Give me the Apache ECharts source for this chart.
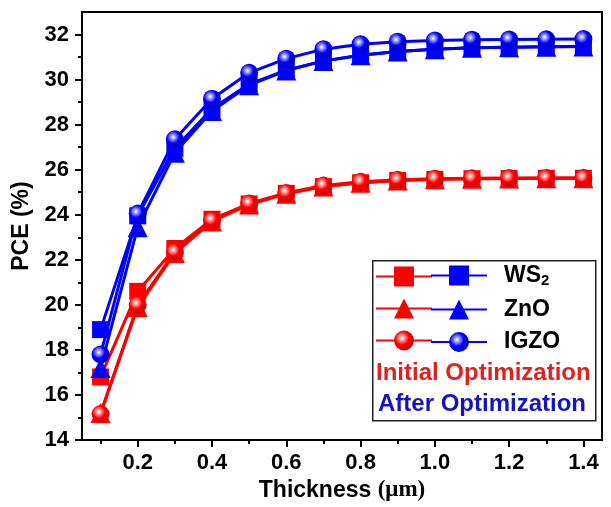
<!DOCTYPE html>
<html>
<head>
<meta charset="utf-8">
<script src="https://cdn.jsdelivr.net/npm/echarts@6/dist/echarts.min.js"></script>
<style>
  html, body { margin: 0; padding: 0; background: #fff; }
  #chart { width: 611px; height: 507px; }
</style>
</head>
<body>
<div id="chart"></div>
<script>
// Absorber thickness (µm)
const thickness = [0.1, 0.2, 0.3, 0.4, 0.5, 0.6, 0.7, 0.8, 0.9, 1.0, 1.1, 1.2, 1.3, 1.4];

// PCE (%) – initial optimization
const initWS2  = [16.8, 20.6, 22.5, 23.8, 24.48, 24.95, 25.25, 25.42, 25.52, 25.57, 25.6, 25.61, 25.62, 25.62];
const initZnO  = [15.2, 19.9, 22.3, 23.7, 24.45, 24.93, 25.25, 25.42, 25.52, 25.57, 25.6, 25.61, 25.62, 25.62];
const initIGZO = [15.15, 20.0, 22.35, 23.75, 24.5, 24.97, 25.3, 25.46, 25.55, 25.6, 25.62, 25.63, 25.63, 25.63];

// PCE (%) – after optimization
const afterWS2  = [18.9, 23.95, 26.95, 28.7, 29.8, 30.42, 30.83, 31.08, 31.25, 31.35, 31.41, 31.44, 31.46, 31.47];
const afterZnO  = [17.2, 23.45, 26.75, 28.6, 29.75, 30.4, 30.82, 31.08, 31.25, 31.35, 31.41, 31.44, 31.46, 31.47];
const afterIGZO = [17.8, 24.05, 27.35, 29.15, 30.3, 30.93, 31.35, 31.57, 31.68, 31.74, 31.77, 31.78, 31.79, 31.8];

// Axis ticks
const xMajorTicks = [0.2, 0.4, 0.6, 0.8, 1.0, 1.2, 1.4];
const xMinorTicks = [0.1, 0.3, 0.5, 0.7, 0.9, 1.1, 1.3];
const yMajorTicks = [14, 16, 18, 20, 22, 24, 26, 28, 30, 32];
const yMinorTicks = [15, 17, 19, 21, 23, 25, 27, 29, 31];

const RED = '#ff0000';
const BLUE = '#0000ff';
const SANS = '"Liberation Sans", Arial, sans-serif';
const SERIF = '"Liberation Serif", "Times New Roman", serif';

const chart = echarts.init(document.getElementById('chart'), null, { renderer: 'canvas' });

function pairs(ys) {
  return thickness.map((x, i) => [x, ys[i]]);
}

// shaded ball fill for the circle markers
function sphere(base, mid, dark) {
  return new echarts.graphic.RadialGradient(0.4, 0.38, 0.62, [
    { offset: 0, color: '#ffffff' },
    { offset: 0.22, color: mid },
    { offset: 0.55, color: base },
    { offset: 1, color: dark }
  ]);
}

function lineSeries(name, ys, color, symbol, size, fill) {
  return {
    name: name,
    type: 'line',
    data: pairs(ys),
    symbol: symbol,
    symbolSize: size,
    showAllSymbol: true,
    lineStyle: { color: color, width: 3 },
    itemStyle: { color: fill || color },
    emphasis: { disabled: true },
    animation: false,
    z: 2
  };
}

const series = [
  lineSeries('i-WS2', initWS2, RED, 'rect', 17),
  lineSeries('i-ZnO', initZnO, RED, 'triangle', 20),
  lineSeries('i-IGZO', initIGZO, RED, 'circle', 18, sphere(RED, '#ff9a9a', '#d00000')),
  lineSeries('a-WS2', afterWS2, BLUE, 'rect', 17),
  lineSeries('a-ZnO', afterZnO, BLUE, 'triangle', 20),
  lineSeries('a-IGZO', afterIGZO, BLUE, 'circle', 18, sphere(BLUE, '#9a9aff', '#0000b8'))
];

const tickLabelStyle = {
  fontSize: 22,
  fontWeight: 'bold',
  color: '#000',
  fontFamily: SANS
};

const option = {
  backgroundColor: '#fff',
  animation: false,
  grid: {
    left: 82, right: 9, top: 12, bottom: 67,
    show: true, borderColor: '#000', borderWidth: 2,
    backgroundColor: 'transparent'
  },
  xAxis: [
    {
      type: 'value', min: 0.05, max: 1.45, position: 'bottom',
      axisLine: { show: true, lineStyle: { color: '#000', width: 2 } },
      axisTick: { show: true, customValues: xMajorTicks, length: 7, lineStyle: { color: '#000', width: 2 } },
      axisLabel: Object.assign({ customValues: xMajorTicks, margin: 12, formatter: v => v.toFixed(1) }, tickLabelStyle),
      splitLine: { show: false },
      name: '{a|Thickness }{b|(μm)}',
      nameLocation: 'middle',
      nameGap: 38,
      nameTextStyle: {
        rich: {
          a: { fontSize: 23, fontWeight: 'bold', fontFamily: SANS, color: '#000' },
          b: { fontSize: 23, fontWeight: 'bold', fontFamily: SERIF, color: '#000' }
        }
      }
    },
    {
      type: 'value', min: 0.05, max: 1.45, position: 'bottom',
      axisLine: { show: false },
      axisTick: { show: true, customValues: xMinorTicks, length: 4, lineStyle: { color: '#000', width: 2 } },
      axisLabel: { show: false },
      splitLine: { show: false }
    }
  ],
  yAxis: [
    {
      type: 'value', min: 14, max: 33, position: 'left',
      axisLine: { show: true, lineStyle: { color: '#000', width: 2 } },
      axisTick: { show: true, customValues: yMajorTicks, length: 7, lineStyle: { color: '#000', width: 2 } },
      axisLabel: Object.assign({ customValues: yMajorTicks, margin: 13 }, tickLabelStyle),
      splitLine: { show: false },
      name: 'PCE (%)',
      nameLocation: 'middle',
      nameGap: 47,
      nameTextStyle: { fontSize: 23, fontWeight: 'bold', fontFamily: SANS, color: '#000' }
    },
    {
      type: 'value', min: 14, max: 33, position: 'left',
      axisLine: { show: false },
      axisTick: { show: true, customValues: yMinorTicks, length: 4, lineStyle: { color: '#000', width: 2 } },
      axisLabel: { show: false },
      splitLine: { show: false }
    }
  ],
  legend: [
    {
      data: ['i-WS2', 'i-ZnO', 'i-IGZO'],
      orient: 'vertical',
      left: 375, top: 264,
      padding: 0,
      itemWidth: 56, itemHeight: 25, itemGap: 9.5,
      selectedMode: false,
      formatter: () => '',
      textStyle: { fontSize: 1 }
    },
    {
      data: ['a-WS2', 'a-ZnO', 'a-IGZO'],
      orient: 'vertical',
      left: 430, top: 264,
      padding: 0,
      itemWidth: 56, itemHeight: 25, itemGap: 9.5,
      selectedMode: false,
      formatter: name => {
        const m = name.slice(2);
        return m === 'WS2' ? '{m|WS}{s|2}' : '{m|' + m + '}';
      },
      textStyle: {
        padding: [0, 0, 0, 12],
        rich: {
          m: { fontSize: 23, fontWeight: 'bold', fontFamily: SANS, color: '#000', lineHeight: 26 },
          s: { fontSize: 15, fontWeight: 'bold', fontFamily: SANS, color: '#000', lineHeight: 13, verticalAlign: 'bottom' }
        }
      }
    }
  ],
  graphic: [
    {
      type: 'rect',
      left: 372, top: 260,
      shape: { width: 223, height: 160 },
      style: { fill: '#fff', stroke: '#222', lineWidth: 1.5 },
      z: 1
    },
    {
      type: 'text',
      left: 376, top: 361,
      style: { text: 'Initial Optimization', fill: '#e3201b', font: 'bold 24px ' + SANS },
      z: 5
    },
    {
      type: 'text',
      left: 378, top: 392,
      style: { text: 'After Optimization', fill: '#1414c4', font: 'bold 24px ' + SANS },
      z: 5
    }
  ],
  series: series
};

chart.setOption(option);
</script>
</body>
</html>
